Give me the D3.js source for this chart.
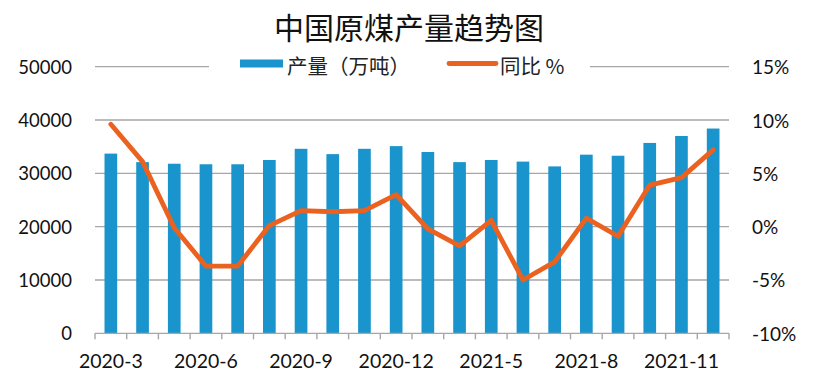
<!DOCTYPE html>
<html>
<head>
<meta charset="utf-8">
<script src="https://cdn.jsdelivr.net/npm/d3@7"></script>
<style>
  html, body { margin: 0; padding: 0; background: #fff; }
  svg { display: block; }
</style>
</head>
<body>
<svg id="chart" width="831" height="377"></svg>
<script>
const categories = ["2020-3","2020-4","2020-5","2020-6","2020-7","2020-8","2020-9","2020-10","2020-11","2020-12",
  "2021-3","2021-4","2021-5","2021-6","2021-7","2021-8","2021-9","2021-10","2021-11","2021-12"];
const xTickLabels = ["2020-3","2020-6","2020-9","2020-12","2021-5","2021-8","2021-11"];
const production = [33700,32100,31800,31700,31700,32500,34600,33600,34600,35100,
  34000,32100,32500,32200,31300,33500,33300,35700,37000,38400];
const yoy = [9.6,6.1,-0.1,-3.7,-3.7,0.1,1.5,1.4,1.5,3.0,
  -0.2,-1.8,0.6,-5.0,-3.3,0.8,-0.9,3.9,4.6,7.2];
const leftTicks = [0,10000,20000,30000,40000,50000];
const rightTicks = [-10,-5,0,5,10,15];
const title = "中国原煤产量趋势图";
const seriesNames = ["产量（万吨）","同比 %"];

const barColor = "#1A94CC", lineColor = "#EB6220", gridColor = "#A6A6A6";
const numFont = "Lato, 'Open Sans', sans-serif";
const cjkFont = "'Noto Sans CJK SC', sans-serif";

const svg = d3.select("#chart");
const L = 95, R = 729, T = 66.67, B = 333.33;

const x = d3.scaleBand().domain(categories).range([L, R]).paddingInner(0).paddingOuter(0);
const yL = d3.scaleLinear().domain([0, 50000]).range([B, T]);
const yR = d3.scaleLinear().domain([-10, 15]).range([B, T]);

// gridlines
svg.append("g").selectAll("line").data(leftTicks.filter(d => d > 0)).join("line")
  .attr("x1", L).attr("x2", R)
  .attr("y1", d => yL(d)).attr("y2", d => yL(d))
  .attr("stroke", gridColor).attr("stroke-width", 1.4);

// bars
const bw = x.bandwidth() / 2.5;
svg.append("g").selectAll("rect").data(production).join("rect")
  .attr("x", (d, i) => x(categories[i]) + x.bandwidth() / 2 - bw / 2)
  .attr("width", bw)
  .attr("y", d => yL(d))
  .attr("height", d => B - yL(d))
  .attr("fill", barColor);

// bottom axis
const xAxis = svg.append("g");
xAxis.append("line").attr("x1", L).attr("x2", R).attr("y1", B).attr("y2", B)
  .attr("stroke", gridColor).attr("stroke-width", 1.4);
const boundaries = categories.map(c => x(c)).concat([R]);
xAxis.selectAll("line.tk").data(boundaries).join("line").attr("class", "tk")
  .attr("x1", d => d).attr("x2", d => d).attr("y1", B).attr("y2", B + 6)
  .attr("stroke", gridColor).attr("stroke-width", 1.4);
xAxis.selectAll("text").data(xTickLabels).join("text")
  .attr("x", d => x(d) + x.bandwidth() / 2)
  .attr("y", 360)
  .attr("text-anchor", "middle").attr("dominant-baseline", "central")
  .attr("font-family", numFont).attr("font-size", 19.5).attr("fill", "#111")
  .text(d => d);

// left axis labels
svg.append("g").selectAll("text").data(leftTicks).join("text")
  .attr("x", 72).attr("y", d => yL(d))
  .attr("text-anchor", "end").attr("dominant-baseline", "central")
  .attr("font-family", numFont).attr("font-size", 18.5).attr("fill", "#111")
  .text(d => d);

// right axis labels
svg.append("g").selectAll("text").data(rightTicks).join("text")
  .attr("x", 752).attr("y", d => yR(d))
  .attr("text-anchor", "start").attr("dominant-baseline", "central")
  .attr("font-family", numFont).attr("font-size", 19).attr("fill", "#111")
  .text(d => d + "%");

// line
const line = d3.line()
  .x((d, i) => x(categories[i]) + x.bandwidth() / 2)
  .y(d => yR(d));
svg.append("path").datum(yoy)
  .attr("d", line).attr("fill", "none")
  .attr("stroke", lineColor).attr("stroke-width", 4.8)
  .attr("stroke-linejoin", "round").attr("stroke-linecap", "round");

// title
svg.append("text").attr("x", 409).attr("y", 25.5)
  .attr("text-anchor", "middle").attr("dominant-baseline", "central")
  .attr("font-family", cjkFont).attr("font-size", 30).attr("fill", "#111")
  .text(title);

// legend
const lg = svg.append("g");
lg.append("rect").attr("x", 209).attr("y", 55).attr("width", 381).attr("height", 22).attr("fill", "#fff");
lg.append("rect").attr("x", 240).attr("y", 59.5).attr("width", 43).attr("height", 8).attr("fill", barColor);
lg.append("text").attr("x", 287).attr("y", 65)
  .attr("dominant-baseline", "central")
  .attr("font-family", cjkFont).attr("font-size", 20.5).attr("fill", "#222")
  .text(seriesNames[0]);
lg.append("line").attr("x1", 449).attr("x2", 496).attr("y1", 63.5).attr("y2", 63.5)
  .attr("stroke", lineColor).attr("stroke-width", 4.8).attr("stroke-linecap", "round");
lg.append("text").attr("x", 500).attr("y", 65)
  .attr("dominant-baseline", "central")
  .attr("font-family", cjkFont).attr("font-size", 20.5).attr("fill", "#222")
  .text(seriesNames[1]);
</script>
</body>
</html>
